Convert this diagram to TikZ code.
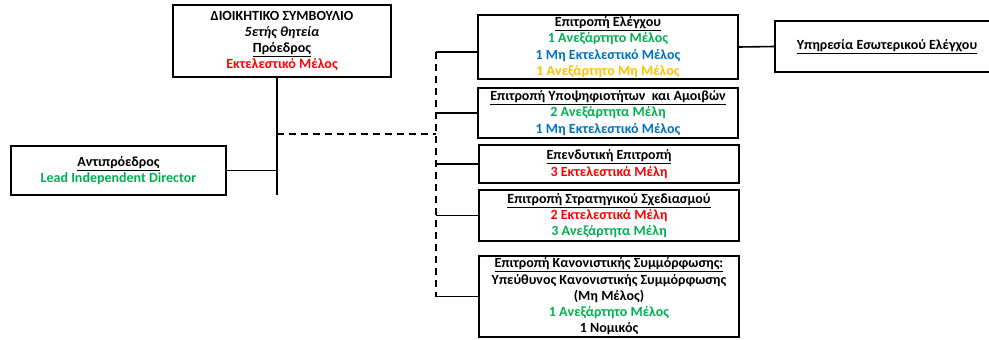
\documentclass[tikz,border=0pt]{standalone}
\usepackage{fontspec}
\setmainfont{Carlito}
\usepackage{xcolor}
\definecolor{grn}{RGB}{0,176,80}
\definecolor{blu}{RGB}{0,112,192}
\definecolor{org}{RGB}{255,192,0}
\tikzset{
  box/.style={draw, line width=2pt, align=center, inner xsep=2pt, inner ysep=0pt,
    font=\bfseries\fontsize{14}{16.3}\selectfont},
  link/.style={line width=1.6pt},
  dashlink/.style={line width=1.6pt, dash pattern=on 7pt off 5pt}
}

\begin{document}
\begin{tikzpicture}[x=1pt, y=-1pt]
    \useasboundingbox (0,0) rectangle (989,340);
    \clip (0,0) rectangle (989,340);
    \node[box, minimum width=218pt, minimum height=72pt] (board) at (282,41)
        {ΔΙΟΙΚΗΤΙΚΟ ΣΥΜΒΟΥΛΙΟ\\ \textit{5ετής θητεία}\\ \underline{Πρόεδρος}\\ \textcolor{red}{Εκτελεστικό Μέλος}};
    \node[box, minimum width=215pt, minimum height=49pt] (vice) at (118.5,170.5)
        {\underline{Αντιπρόεδρος}\\ \textcolor{grn}{Lead Independent Director}};
    \node[box, minimum width=260pt, minimum height=64pt] (audit) at (608,47)
        {\underline{Επιτροπή Ελέγχου}\\ \textcolor{grn}{1 Ανεξάρτητο Μέλος}\\ \textcolor{blu}{1 Μη Εκτελεστικό Μέλος}\\ \textcolor{org}{1 Ανεξάρτητο Μη Μέλος}};
    \node[box, minimum width=260pt, minimum height=50pt] (nom) at (608,113)
        {\underline{Επιτροπή Υποψηφιοτήτων\ \ και Αμοιβών}\\ \textcolor{grn}{2 Ανεξάρτητα Μέλη}\\ \textcolor{blu}{1 Μη Εκτελεστικό Μέλος}};
    \node[box, minimum width=260pt, minimum height=38pt] (invest) at (609,164)
        {\underline{Επενδυτική Επιτροπή}\\ \textcolor{red}{3 Εκτελεστικά Μέλη}};
    \node[box, minimum width=260pt, minimum height=51pt] (strat) at (609,215.5)
        {\underline{Επιτροπή Στρατηγικού Σχεδιασμού}\\ \textcolor{red}{2 Εκτελεστικά Μέλη}\\ \textcolor{grn}{3 Ανεξάρτητα Μέλη}};
    \node[box, minimum width=260pt, minimum height=81pt] (comp) at (609,296.5)
        {\underline{Επιτροπή Κανονιστικής Συμμόρφωσης:}\\ Υπεύθυνος Κανονιστικής Συμμόρφωσης\\ (Μη Μέλος)\\ \textcolor{grn}{1 Ανεξάρτητο Μέλος}\\ 1 Νομικός};
    \node[box, minimum width=224pt, minimum height=51pt] (internal) at (887,46.5)
        {\underline{Υπηρεσία Εσωτερικού Ελέγχου}};

    \coordinate (trunk) at (277,195);
    \coordinate (split) at (277,134);
    \coordinate (bus) at (436,134);
    \coordinate (bustop) at (436,52);
    \coordinate (busbot) at (436,297);
    \draw[link] (board.south -| trunk) -- (trunk);
    \draw[link] (vice.east) -- (vice.east -| trunk);
    \draw[dashlink] (split) -- (bus);
    \draw[dashlink] (bustop) -- (busbot);
    \draw[link] (bustop) -- (bustop -| audit.west);
    \foreach \n in {nom,invest,strat,comp}
        \draw[link] (\n.west -| bus) -- (\n.west);
    \draw[link] (audit.east) -- (internal.west);
\end{tikzpicture}
\end{document}
